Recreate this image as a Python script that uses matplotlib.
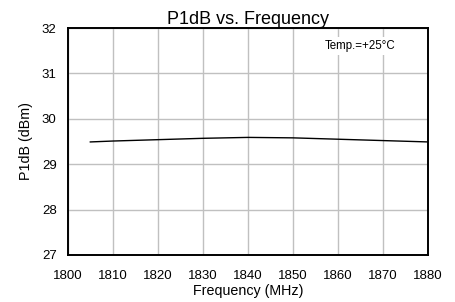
import matplotlib as mpl

mpl.rcParams["font.family"] = ["Liberation Sans", "DejaVu Sans"]

import matplotlib.pyplot as plt

freq = [1805, 1810, 1820, 1830, 1840, 1850, 1860, 1870, 1880]
p1db = [29.49, 29.51, 29.54, 29.57, 29.59, 29.58, 29.55, 29.52, 29.49]

x_ticks = list(range(1800, 1881, 10))
y_ticks = [27, 28, 29, 30, 31, 32]

fig = plt.figure(figsize=(4.55, 3.02), dpi=100)
ax = fig.add_axes([0.149, 0.156, 0.792, 0.751])

ax.plot(freq, p1db, color="black", linewidth=1.0)

ax.set_xlim(1800, 1880)
ax.set_ylim(27, 32)
ax.set_xticks(x_ticks)
ax.set_yticks(y_ticks)
ax.grid(True, color="#c0c0c0", linewidth=1.0)
ax.set_axisbelow(True)
ax.tick_params(length=0, labelsize=9.5)
ax.tick_params(axis="x", pad=11)
ax.tick_params(axis="y", pad=8)
for sp in ax.spines.values():
    sp.set_linewidth(1.4)

ax.set_title("P1dB vs. Frequency", fontsize=13, pad=3)
ax.set_xlabel("Frequency (MHz)", fontsize=10.3, labelpad=1)
ax.set_ylabel("P1dB (dBm)", fontsize=10.3, labelpad=6)

ax.text(1865, 31.6, "Temp.=+25°C", fontsize=8.3, ha="center", va="center",
        bbox=dict(facecolor="white", edgecolor="none", pad=2))

fig.savefig("out.png", dpi=100)
